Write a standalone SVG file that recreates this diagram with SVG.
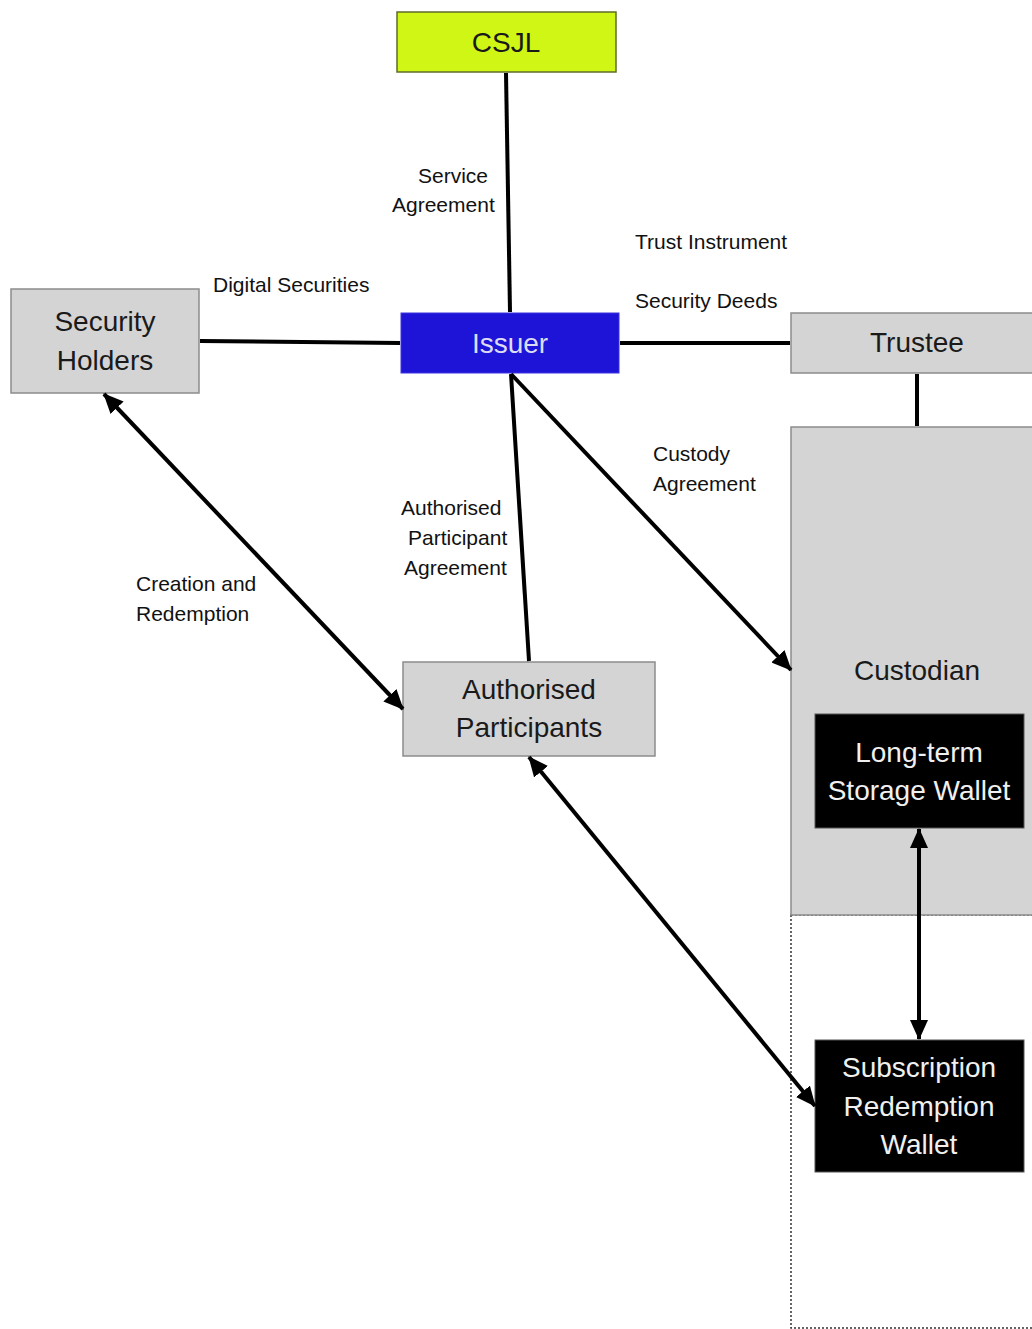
<svg xmlns="http://www.w3.org/2000/svg" width="1032" height="1329" viewBox="0 0 1032 1329">
<defs>
<marker id="ah" viewBox="0 0 20 18" refX="19" refY="9" markerWidth="20" markerHeight="18" markerUnits="userSpaceOnUse" orient="auto-start-reverse">
<path d="M0,0 L20,9 L0,18 Z" fill="#000"/>
</marker>
</defs>
<style>
.node { font-family: "Liberation Sans", Arial, sans-serif; font-size: 28px; text-anchor: middle; }
.gray { fill: #d4d4d4; stroke: #8c8c8c; stroke-width: 1.5; }
.dark { fill: #1a1a1a; }
.light { fill: #f0f0f0; }
.wallet { fill: #000; stroke: #555; stroke-width: 1; }
.lbl { font-family: "Liberation Sans", Arial, sans-serif; font-size: 21px; fill: #111; }
.conn { stroke: #000; stroke-width: 4; fill: none; }
</style>
<rect width="1032" height="1329" fill="#fff"/>

<g id="custodian-area">
<rect x="791" y="915" width="260" height="413" fill="none" stroke="#333" stroke-width="1.5" stroke-dasharray="2,2"/>
</g>

<g id="csjl">
<rect x="397" y="12" width="219" height="60" fill="#cff614" stroke="#5f6b2a" stroke-width="1.5"/>
<text class="node dark" x="506" y="52">CSJL</text>
</g>

<g id="issuer">
<rect x="401" y="313" width="218" height="60" fill="#1d14d8" stroke="#3a35e0" stroke-width="1"/>
<text class="node" x="510" y="353" fill="#dcdcf4">Issuer</text>
</g>

<g id="security-holders">
<rect class="gray" x="11" y="289" width="188" height="104"/>
<text class="node dark" x="105" y="331">Security</text>
<text class="node dark" x="105" y="370">Holders</text>
</g>

<g id="trustee">
<rect class="gray" x="791" y="313" width="260" height="60"/>
<text class="node dark" x="917" y="352">Trustee</text>
</g>

<g id="custodian">
<rect class="gray" x="791" y="427" width="260" height="488"/>
<text class="node dark" x="917" y="680">Custodian</text>
</g>

<g id="authorised-participants">
<rect class="gray" x="403" y="662" width="252" height="94"/>
<text class="node dark" x="529" y="699">Authorised</text>
<text class="node dark" x="529" y="737">Participants</text>
</g>

<g id="long-term-wallet">
<rect class="wallet" x="815" y="714" width="209" height="114"/>
<text class="node light" x="919" y="762">Long-term</text>
<text class="node light" x="919" y="800">Storage Wallet</text>
</g>

<g id="subscription-wallet">
<rect class="wallet" x="815" y="1040" width="209" height="132"/>
<text class="node light" x="919" y="1077">Subscription</text>
<text class="node light" x="919" y="1116">Redemption</text>
<text class="node light" x="919" y="1154">Wallet</text>
</g>

<g id="connectors">
<line class="conn" x1="506" y1="73" x2="510" y2="312"/>
<line class="conn" x1="200" y1="341" x2="400" y2="343"/>
<line class="conn" x1="620" y1="343" x2="790" y2="343"/>
<line class="conn" x1="917" y1="374" x2="917" y2="426"/>
<line class="conn" x1="511" y1="374" x2="529" y2="661"/>
<line class="conn" x1="511" y1="374" x2="791" y2="670" marker-end="url(#ah)"/>
<line class="conn" x1="104" y1="394" x2="403" y2="709" marker-start="url(#ah)" marker-end="url(#ah)"/>
<line class="conn" x1="529" y1="757" x2="815" y2="1106" marker-start="url(#ah)" marker-end="url(#ah)"/>
<line class="conn" x1="919" y1="829" x2="919" y2="1039" marker-start="url(#ah)" marker-end="url(#ah)"/>
</g>

<g id="labels">
<text class="lbl" x="418" y="183">Service</text>
<text class="lbl" x="392" y="212">Agreement</text>
<text class="lbl" x="635" y="249">Trust Instrument</text>
<text class="lbl" x="635" y="308">Security Deeds</text>
<text class="lbl" x="213" y="292">Digital Securities</text>
<text class="lbl" x="653" y="461">Custody</text>
<text class="lbl" x="653" y="491">Agreement</text>
<text class="lbl" x="401" y="515">Authorised</text>
<text class="lbl" x="408" y="545">Participant</text>
<text class="lbl" x="404" y="575">Agreement</text>
<text class="lbl" x="136" y="591">Creation and</text>
<text class="lbl" x="136" y="621">Redemption</text>
</g>
</svg>
